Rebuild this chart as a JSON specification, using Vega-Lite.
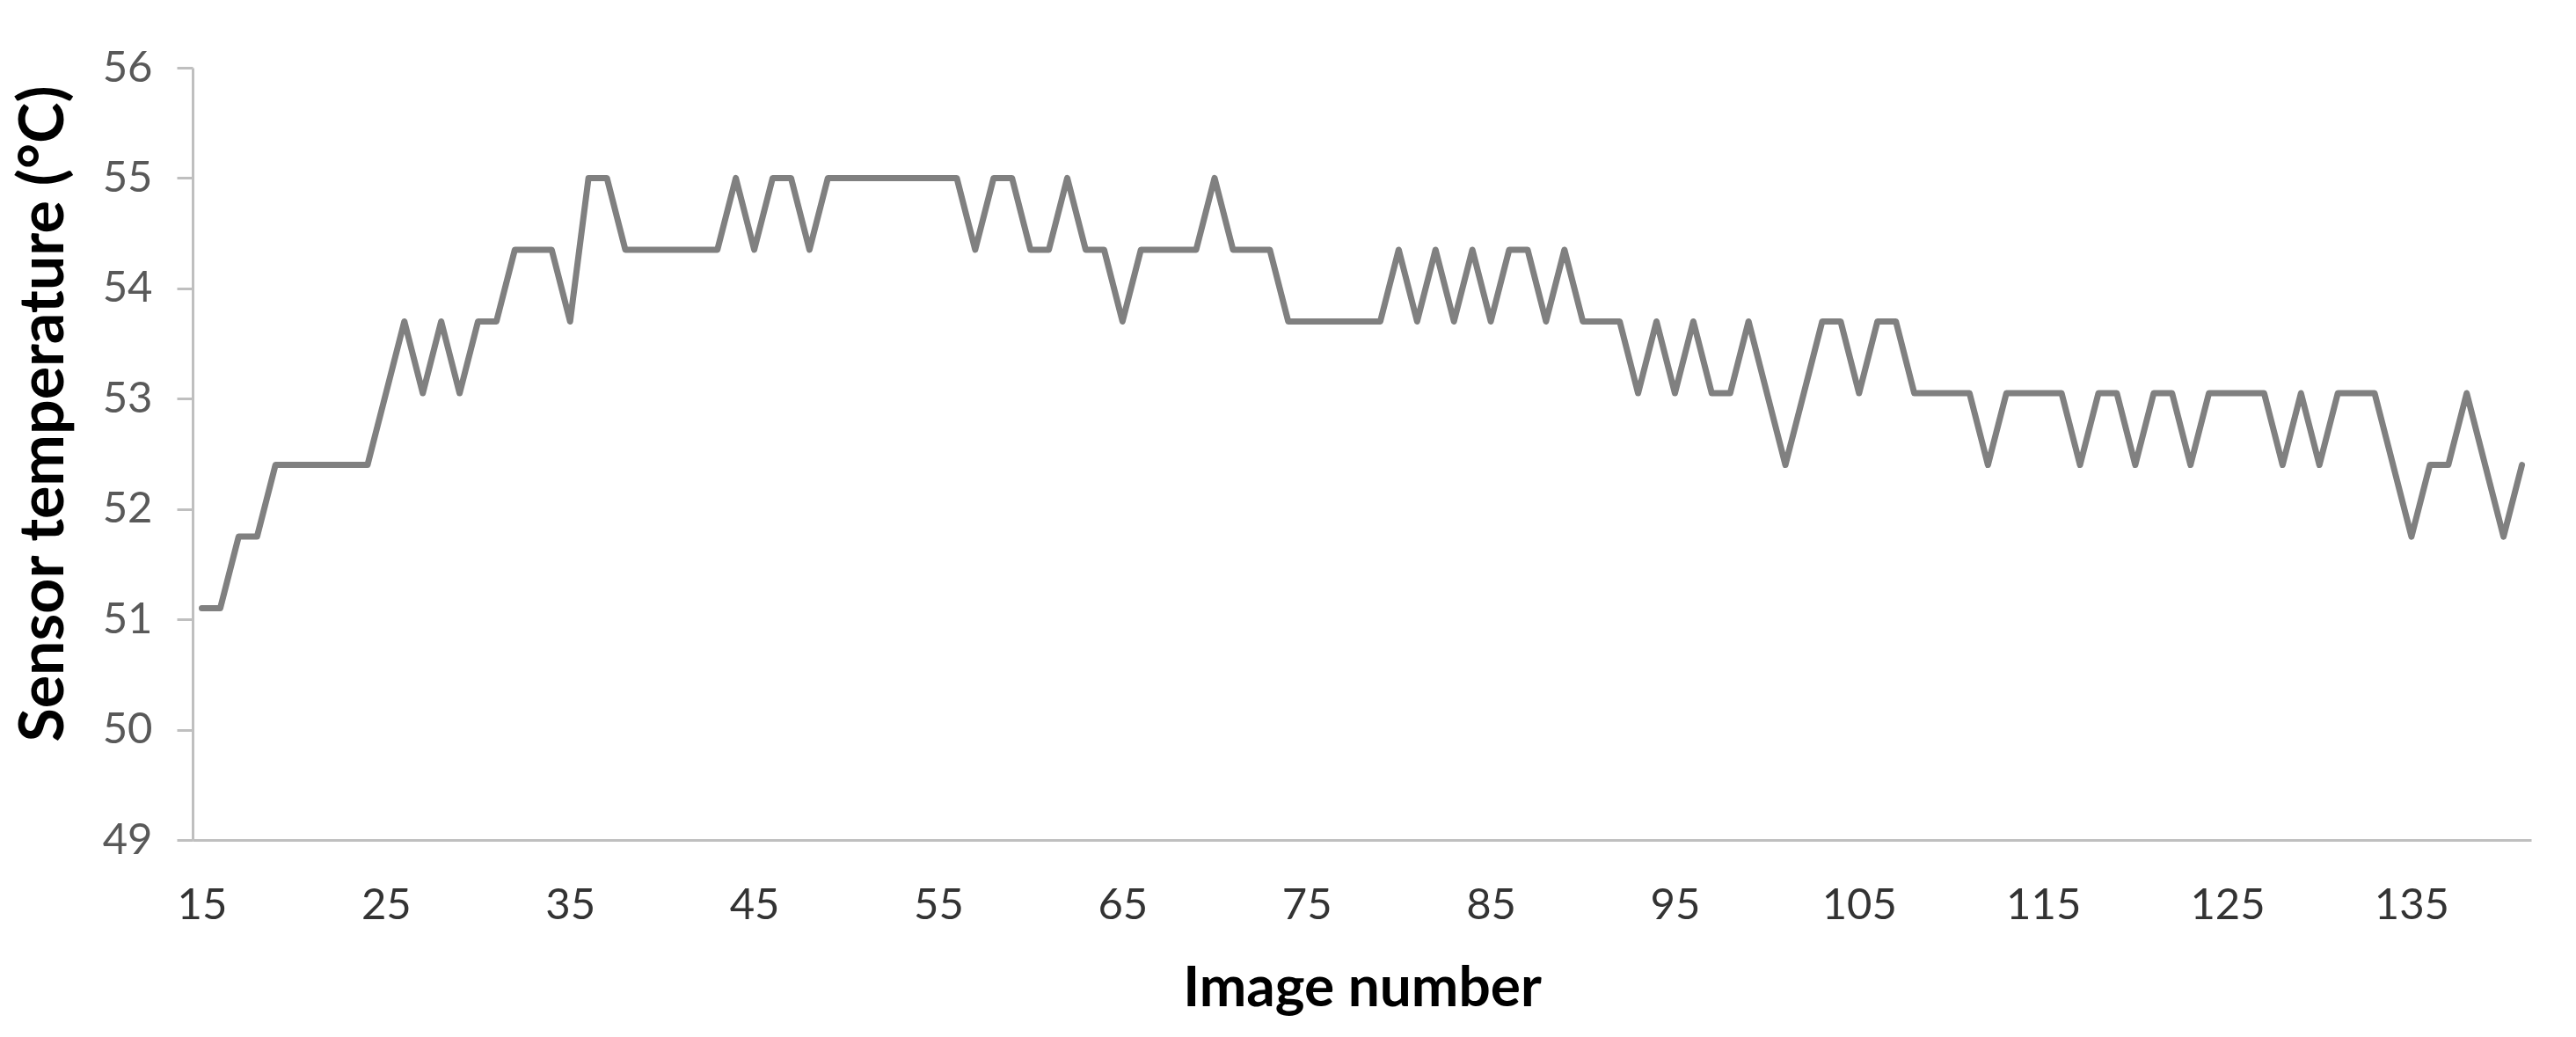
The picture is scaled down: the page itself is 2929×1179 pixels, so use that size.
{
  "$schema": "https://vega.github.io/schema/vega-lite/v6.json",
  "autosize": "none",
  "width": 2659,
  "height": 878,
  "padding": {"left": 219, "top": 77, "right": 51, "bottom": 224},
  "background": "white",
  "config": {"view": {"stroke": null}, "font": "Lato"},
  "data": {"values": [
    {"image": 15, "temp": 51.1}, {"image": 16, "temp": 51.1}, {"image": 17, "temp": 51.75}, {"image": 18, "temp": 51.75},
    {"image": 19, "temp": 52.4}, {"image": 20, "temp": 52.4}, {"image": 21, "temp": 52.4}, {"image": 22, "temp": 52.4},
    {"image": 23, "temp": 52.4}, {"image": 24, "temp": 52.4}, {"image": 25, "temp": 53.05}, {"image": 26, "temp": 53.7},
    {"image": 27, "temp": 53.05}, {"image": 28, "temp": 53.7}, {"image": 29, "temp": 53.05}, {"image": 30, "temp": 53.7},
    {"image": 31, "temp": 53.7}, {"image": 32, "temp": 54.35}, {"image": 33, "temp": 54.35}, {"image": 34, "temp": 54.35},
    {"image": 35, "temp": 53.7}, {"image": 36, "temp": 55}, {"image": 37, "temp": 55}, {"image": 38, "temp": 54.35},
    {"image": 39, "temp": 54.35}, {"image": 40, "temp": 54.35}, {"image": 41, "temp": 54.35}, {"image": 42, "temp": 54.35},
    {"image": 43, "temp": 54.35}, {"image": 44, "temp": 55}, {"image": 45, "temp": 54.35}, {"image": 46, "temp": 55},
    {"image": 47, "temp": 55}, {"image": 48, "temp": 54.35}, {"image": 49, "temp": 55}, {"image": 50, "temp": 55},
    {"image": 51, "temp": 55}, {"image": 52, "temp": 55}, {"image": 53, "temp": 55}, {"image": 54, "temp": 55},
    {"image": 55, "temp": 55}, {"image": 56, "temp": 55}, {"image": 57, "temp": 54.35}, {"image": 58, "temp": 55},
    {"image": 59, "temp": 55}, {"image": 60, "temp": 54.35}, {"image": 61, "temp": 54.35}, {"image": 62, "temp": 55},
    {"image": 63, "temp": 54.35}, {"image": 64, "temp": 54.35}, {"image": 65, "temp": 53.7}, {"image": 66, "temp": 54.35},
    {"image": 67, "temp": 54.35}, {"image": 68, "temp": 54.35}, {"image": 69, "temp": 54.35}, {"image": 70, "temp": 55},
    {"image": 71, "temp": 54.35}, {"image": 72, "temp": 54.35}, {"image": 73, "temp": 54.35}, {"image": 74, "temp": 53.7},
    {"image": 75, "temp": 53.7}, {"image": 76, "temp": 53.7}, {"image": 77, "temp": 53.7}, {"image": 78, "temp": 53.7},
    {"image": 79, "temp": 53.7}, {"image": 80, "temp": 54.35}, {"image": 81, "temp": 53.7}, {"image": 82, "temp": 54.35},
    {"image": 83, "temp": 53.7}, {"image": 84, "temp": 54.35}, {"image": 85, "temp": 53.7}, {"image": 86, "temp": 54.35},
    {"image": 87, "temp": 54.35}, {"image": 88, "temp": 53.7}, {"image": 89, "temp": 54.35}, {"image": 90, "temp": 53.7},
    {"image": 91, "temp": 53.7}, {"image": 92, "temp": 53.7}, {"image": 93, "temp": 53.05}, {"image": 94, "temp": 53.7},
    {"image": 95, "temp": 53.05}, {"image": 96, "temp": 53.7}, {"image": 97, "temp": 53.05}, {"image": 98, "temp": 53.05},
    {"image": 99, "temp": 53.7}, {"image": 100, "temp": 53.05}, {"image": 101, "temp": 52.4}, {"image": 102, "temp": 53.05},
    {"image": 103, "temp": 53.7}, {"image": 104, "temp": 53.7}, {"image": 105, "temp": 53.05}, {"image": 106, "temp": 53.7},
    {"image": 107, "temp": 53.7}, {"image": 108, "temp": 53.05}, {"image": 109, "temp": 53.05}, {"image": 110, "temp": 53.05},
    {"image": 111, "temp": 53.05}, {"image": 112, "temp": 52.4}, {"image": 113, "temp": 53.05}, {"image": 114, "temp": 53.05},
    {"image": 115, "temp": 53.05}, {"image": 116, "temp": 53.05}, {"image": 117, "temp": 52.4}, {"image": 118, "temp": 53.05},
    {"image": 119, "temp": 53.05}, {"image": 120, "temp": 52.4}, {"image": 121, "temp": 53.05}, {"image": 122, "temp": 53.05},
    {"image": 123, "temp": 52.4}, {"image": 124, "temp": 53.05}, {"image": 125, "temp": 53.05}, {"image": 126, "temp": 53.05},
    {"image": 127, "temp": 53.05}, {"image": 128, "temp": 52.4}, {"image": 129, "temp": 53.05}, {"image": 130, "temp": 52.4},
    {"image": 131, "temp": 53.05}, {"image": 132, "temp": 53.05}, {"image": 133, "temp": 53.05}, {"image": 134, "temp": 52.4},
    {"image": 135, "temp": 51.75}, {"image": 136, "temp": 52.4}, {"image": 137, "temp": 52.4}, {"image": 138, "temp": 53.05},
    {"image": 139, "temp": 52.4}, {"image": 140, "temp": 51.75}, {"image": 141, "temp": 52.4}
  ]},
  "mark": {"type": "line", "color": "#808080", "strokeWidth": 7, "strokeJoin": "round", "strokeCap": "round"},
  "encoding": {
    "x": {
      "field": "image", "type": "quantitative",
      "scale": {"domain": [14.5, 141.5], "nice": false, "zero": false},
      "axis": {
        "title": "Image number",
        "values": [15, 25, 35, 45, 55, 65, 75, 85, 95, 105, 115, 125, 135],
        "grid": false, "ticks": false,
        "domainColor": "#bfbfbf", "domainWidth": 3,
        "labelFont": "Lato", "labelFontSize": 49, "labelColor": "#333333", "labelPadding": 50,
        "labelFlush": false,
        "titleFont": "Lato", "titleFontSize": 64, "titleFontWeight": "bold", "titleColor": "#000000",
        "titlePadding": 38
      }
    },
    "y": {
      "field": "temp", "type": "quantitative",
      "scale": {"domain": [49, 56], "nice": false, "zero": false},
      "axis": {
        "title": "Sensor temperature (°C)",
        "values": [49, 50, 51, 52, 53, 54, 55, 56],
        "grid": false,
        "domainColor": "#bfbfbf", "domainWidth": 3,
        "tickColor": "#bfbfbf", "tickWidth": 3, "tickSize": 18,
        "labelFont": "Lato", "labelFontSize": 49, "labelColor": "#595959", "labelPadding": 28,
        "labelFlush": false,
        "titleFont": "Lato", "titleFontSize": 70, "titleFontWeight": "bold", "titleColor": "#000000",
        "titleX": -169, "titleY": 393, "titleAngle": -90, "titleBaseline": "middle", "titleAlign": "center"
      }
    }
  }
}
